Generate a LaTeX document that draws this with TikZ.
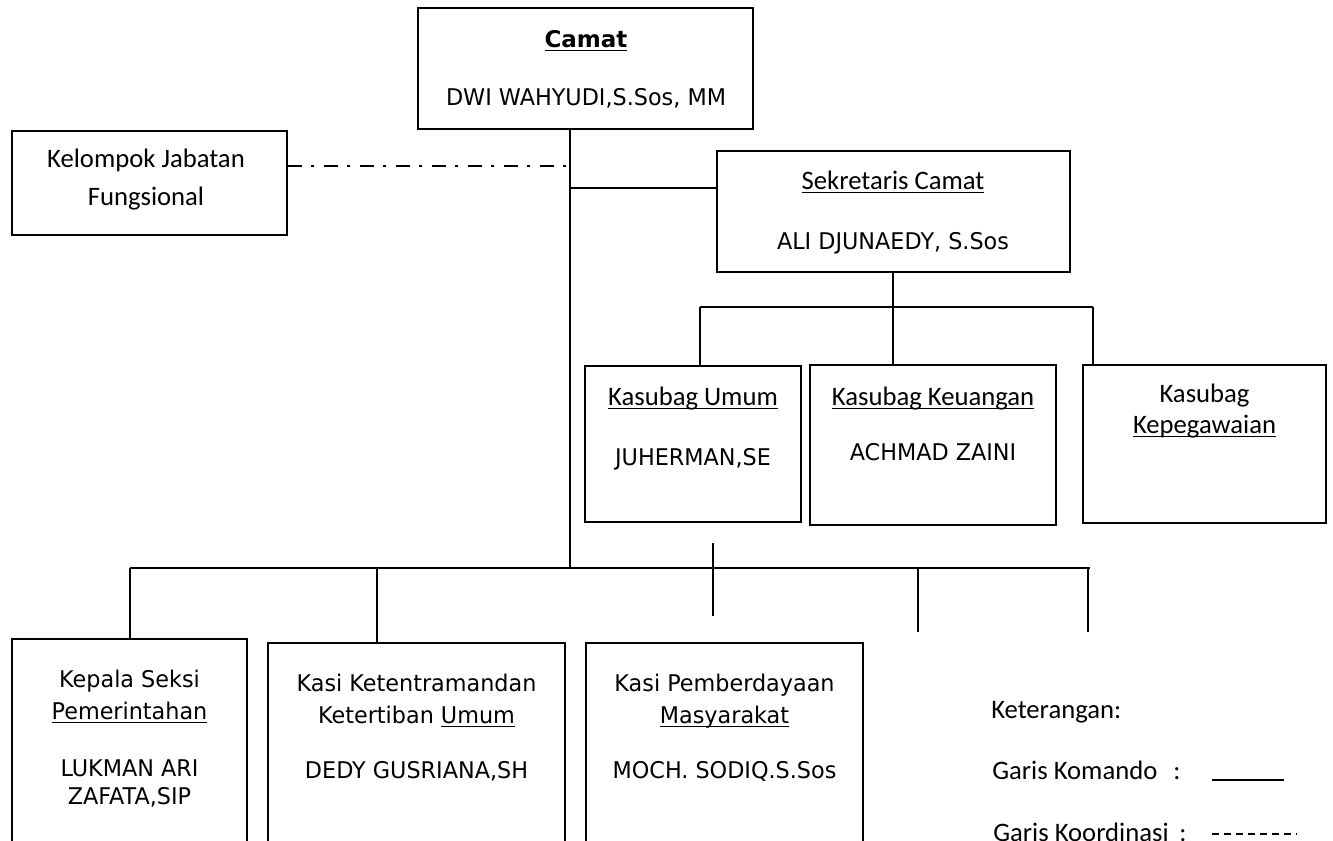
\documentclass[tikz,border=0pt]{standalone}
\usepackage{fontspec}
\setmainfont{Carlito}
\newfontfamily\tahfont[FakeStretch=0.97]{DejaVu Sans}
\newfontfamily\vbfont{DejaVu Sans}
\usetikzlibrary{fit}
% underline with a heavier rule than \underline gives
\newcommand{\udl}[1]{\leavevmode\setbox0\hbox{#1}\rlap{\rule[-3.2pt]{\wd0}{1.1pt}}\box0}
\tikzset{
  frame/.style={draw, line width=1.2pt, inner sep=0pt},
  kframe/.style={draw, line width=1.8pt, inner sep=0pt},
  link/.style={line width=1.4pt},
  ulink/.style={line width=1.9pt},
  coordline/.style={line width=2pt, dash pattern=on 10.5pt off 6.75pt on 2.25pt off 7.5pt},
  tx/.style={anchor=base, inner sep=0pt, font=\tahfont\fontsize{17.25}{20}\selectfont},
  bx/.style={anchor=base, inner sep=0pt, font=\vbfont\bfseries\fontsize{17.25}{20}\selectfont},
  cx/.style={anchor=base, inner sep=0pt, font=\fontsize{20}{24}\selectfont},
  cxl/.style={anchor=base west, inner sep=0pt, font=\fontsize{20}{24}\selectfont}
}
\begin{document}
\begin{tikzpicture}[x=0.75pt,y=-0.75pt]
\useasboundingbox (0,0) rectangle (1333,840);

% ---- boxes ----
\node[frame, fit={(418,8)(753,129)}] (camat) {};
\node[frame, fit={(12,131)(287,235)}] (kel) {};
\node[frame, fit={(717,151)(1070,272)}] (sek) {};
\node[kframe, fit={(585,366)(801,522)}] (umum) {};
\node[kframe, fit={(810,365)(1056,525)}] (keu) {};
\node[kframe, fit={(1083,365)(1326,523)}] (peg) {};
\node[frame, fit={(12,639)(247,900)}] (pem) {};
\node[frame, fit={(268,643)(565,900)}] (tib) {};
\node[frame, fit={(586,643)(863,900)}] (mas) {};

% ---- box texts ----
\node[bx] (camat-t) at (586,47) {\udl{Camat}};
\node[tx] (camat-n) at (586,105) {DWI WAHYUDI,S.Sos, MM};

\node[cx] (kel-t1) at (146,167) {Kelompok Jabatan};
\node[cx] (kel-t2) at (146,205) {Fungsional};

\node[cx] (sek-t) at (893,189) {\udl{Sekretaris Camat}};
\node[tx] (sek-n) at (893,249) {ALI DJUNAEDY, S.Sos};

\node[cx] (umum-t) at (693,405) {\udl{Kasubag Umum}};
\node[tx] (umum-n) at (693,465) {JUHERMAN,SE};
\node[cx] (keu-t) at (933,405) {\udl{Kasubag Keuangan}};
\node[tx] (keu-n) at (933,460) {ACHMAD ZAINI};
\node[cx] (peg-t1) at (1204.5,402) {Kasubag};
\node[cx] (peg-t2) at (1204.5,433) {\udl{Kepegawaian}};

\node[tx] (pem-t1) at (129.5,687) {Kepala Seksi};
\node[tx] (pem-t2) at (129.5,719) {\udl{Pemerintahan}};
\node[tx] (pem-n1) at (129.5,776) {LUKMAN ARI};
\node[tx] (pem-n2) at (129.5,804) {ZAFATA,SIP};

\node[tx] (tib-t1) at (416.5,691) {Kasi Ketentramandan};
\node[tx] (tib-t2) at (416.5,723) {Ketertiban \udl{Umum}};
\node[tx] (tib-n) at (416.5,778) {DEDY GUSRIANA,SH};

\node[tx] (mas-t1) at (724.5,691) {Kasi Pemberdayaan};
\node[tx] (mas-t2) at (724.5,723) {\udl{Masyarakat}};
\node[tx] (mas-n) at (724.5,778) {MOCH. SODIQ.S.Sos};

% ---- command lines ----
\coordinate (tb) at (570,568);
\coordinate (kd) at (570,166);
\coordinate (ks) at (570,188);
\draw[link] (camat.south -| tb) -- (tb);
\draw[coordline] (kel.east |- kd) -- (kd);
\draw[link] (ks) -- (sek.west |- ks);

\coordinate (sb) at (893,307);
\coordinate (ubl) at (700,307);
\coordinate (ubr) at (1093,307);
\draw[ulink] (sek.south -| sb) -- (sb);
\draw[ulink] (ubl) -- (ubr);
\draw[ulink] (ubl) -- (umum.north -| ubl);
\draw[ulink] (sb) -- (keu.north -| sb);
\draw[ulink] (ubr) -- (peg.north -| ubr);

\coordinate (lbl) at (130,568);
\coordinate (lbm) at (377,568);
\coordinate (lbr) at (1090,568);
\draw[link] (lbl) -- (lbr);
\draw[link] (lbl) -- (pem.north -| lbl);
\draw[link] (lbm) -- (tib.north -| lbm);
\coordinate (s1a) at (713,543);
\coordinate (s1b) at (713,616);
\coordinate (s2a) at (918,568);
\coordinate (s2b) at (918,632);
\coordinate (s3a) at (1088,568);
\coordinate (s3b) at (1088,632);
\draw[link] (s1a) -- (s1b);
\draw[link] (s2a) -- (s2b);
\draw[link] (s3a) -- (s3b);

% ---- legend ----
\node[cxl] (leg-h) at (991,718) {Keterangan:};
\node[cxl] (leg-k) at (992,779) {Garis Komando};
\node[cxl] (leg-kc) at (1173,779) {:};
\node[cxl] (leg-o) at (993,841) {Garis Koordinasi};
\node[cxl] (leg-oc) at (1179,841) {:};
\coordinate (lk1) at (1212,780);
\coordinate (lk2) at (1284,780);
\coordinate (lo1) at (1212,834);
\coordinate (lo2) at (1297,834);
\draw[line width=1.3pt] (lk1) -- (lk2);
\draw[line width=1.3pt, dash pattern=on 5.25pt off 3.75pt] (lo1) -- (lo2);
\end{tikzpicture}
\end{document}
